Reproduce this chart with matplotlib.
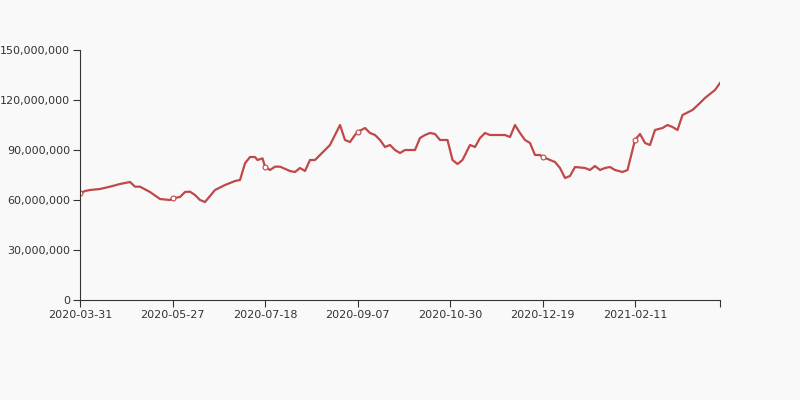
import matplotlib
matplotlib.use('Agg')
import matplotlib.pyplot as plt
from matplotlib.ticker import FuncFormatter

# trading-day index of each sampled point
days = [0, 2, 4, 8, 12, 16, 20, 22, 24, 28, 32, 36, 37, 40, 42, 44, 46, 48, 50, 52,
        54, 58, 62, 64, 66, 68, 70, 71, 73, 74, 76, 78, 80, 84, 86, 88, 90, 92, 94, 96,
        98, 100, 103, 104, 106, 108, 110, 111, 114, 116, 118, 120, 122, 124, 126, 128, 130, 134,
        136, 138, 140, 142, 144, 147, 149, 151, 153, 156, 158, 160, 162, 164, 170, 172,
        174, 176, 178, 180, 182, 184, 185, 188, 190, 192, 194, 196, 198, 202, 204, 206,
        208, 210, 212, 214, 217, 219, 222, 224, 226, 228, 230, 233, 235, 237, 239, 241,
        245, 248, 250, 254, 256]
# values in millions
values = [64, 65.4, 66, 66.6, 68, 69.6, 70.8, 68, 68, 64.8, 60.6, 60, 61, 61.8, 64.8, 65, 63, 60, 58.8, 62.4,
          66, 69, 71.4, 72, 82, 85.8, 85.8, 84, 85, 80, 78, 80, 80, 77.4, 76.8, 79.2, 77.4, 84, 84, 87,
          90, 93, 102, 105, 96, 94.8, 99, 100.8, 103.2, 100.2, 99, 96, 91.8, 93, 90, 88.2, 90, 90,
          97.2, 99, 100.2, 99.6, 96, 96, 84, 81.6, 84, 93, 91.8, 97.2, 100.2, 99, 99, 97.8,
          105, 100.2, 96, 94.2, 87, 87, 86, 84, 82.8, 79.2, 73.2, 74.4, 79.8, 79.2, 78, 80.4,
          78, 79.2, 79.8, 78, 76.8, 78, 96, 99.6, 94.2, 93, 102, 103.2, 105, 103.8, 102, 111,
          114, 118.2, 121.2, 126, 130.2, 127.2, 130.2, 127.2, 130.2, 130.2, 135]
n = min(len(days), len(values))
days, values = days[:n], [v * 1e6 for v in values[:n]]

tick_days = [0, 37, 74, 111, 148, 185, 222]
tick_labels = ['2020-03-31', '2020-05-27', '2020-07-18', '2020-09-07',
               '2020-10-30', '2020-12-19', '2021-02-11']

color = '#c14848'
bg = '#f9f9f9'
fig = plt.figure(figsize=(8, 4), dpi=100, facecolor=bg)
ax = fig.add_axes([0.1, 0.25, 0.8, 0.625], facecolor=bg)
ax.plot(days, values, color=color, lw=1.6)
mk = [(d, v) for d, v in zip(days, values) if d in tick_days]
ax.plot([m[0] for m in mk], [m[1] for m in mk], 'o', ms=3.5, mfc='white', mec=color, mew=0.8)

ax.set_xlim(0, 256)
ax.set_ylim(0, 150e6)
ax.set_yticks(range(0, 150000001, 30000000))
ax.yaxis.set_major_formatter(FuncFormatter(lambda v, p: f'{int(v):,}'))
ax.set_xticks(tick_days + [256])
ax.set_xticklabels(tick_labels + [''])
for s in ['top', 'right']:
    ax.spines[s].set_visible(False)
for s in ['left', 'bottom']:
    ax.spines[s].set_color('#333333')
ax.tick_params(colors='#333333', labelsize=8, length=5, pad=2)
plt.savefig('out.png', dpi=100, facecolor=bg)
